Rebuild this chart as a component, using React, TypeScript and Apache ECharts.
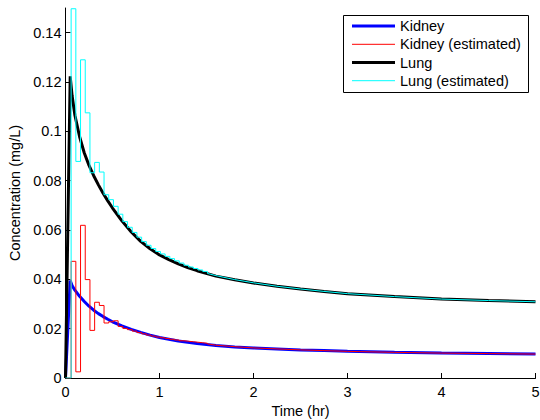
import React, { useEffect, useRef } from "react";
import * as echarts from "echarts";

// Time grid of the "true" model curves (hr)
const trueTimes = [0, 0.05, 0.07, 0.1, 0.15, 0.2, 0.25, 0.3, 0.35, 0.4, 0.45, 0.5, 0.6, 0.7, 0.8, 0.9, 1.0, 1.1, 1.2, 1.3, 1.4, 1.6, 1.8, 2.0, 2.25, 2.5, 2.75, 3.0, 3.5, 4.0, 4.5, 5.0];
const kidney = [0, 0.0395, 0.0375, 0.0356, 0.0331, 0.031, 0.0291, 0.0275, 0.0261, 0.0249, 0.0238, 0.0228, 0.0211, 0.0197, 0.0185, 0.0174, 0.0164, 0.0157, 0.015, 0.0145, 0.014, 0.0132, 0.0126, 0.0122, 0.0118, 0.0114, 0.0111, 0.0108, 0.0104, 0.0101, 0.0099, 0.0097];
const lung = [0, 0.1223, 0.1145, 0.1065, 0.0978, 0.0912, 0.0862, 0.082, 0.0783, 0.0749, 0.0718, 0.0689, 0.0637, 0.0592, 0.0554, 0.0524, 0.0499, 0.048, 0.0463, 0.0448, 0.0435, 0.0413, 0.0398, 0.0385, 0.0372, 0.0361, 0.0351, 0.0342, 0.033, 0.032, 0.0314, 0.0309];

// Estimated (piecewise constant) values, each held from its time to the next
const estTimes = [0, 0.06, 0.11, 0.16, 0.21, 0.26, 0.31, 0.36, 0.41, 0.46, 0.51, 0.56, 0.61, 0.66, 0.71, 0.76, 0.81, 0.86, 0.91, 0.96, 1.01, 1.06, 1.11, 1.16, 1.21, 1.26, 1.31, 1.36, 1.41, 1.46, 1.51];
const kidneyEst = [0, 0.0473, 0.0025, 0.0619, 0.0399, 0.0193, 0.0307, 0.0294, 0.0223, 0.0228, 0.0232, 0.0209, 0.0201, 0.0196, 0.019, 0.0184, 0.0179, 0.0174, 0.017, 0.0166, 0.0163, 0.016, 0.0157, 0.0154, 0.0151, 0.0149, 0.0147, 0.0145, 0.0143, 0.0141, 0.0138];
const lungEst = [0, 0.1497, 0.0878, 0.129, 0.1075, 0.0832, 0.0874, 0.0835, 0.0743, 0.0723, 0.0696, 0.0664, 0.0634, 0.0611, 0.059, 0.0571, 0.0553, 0.0538, 0.0525, 0.0513, 0.0503, 0.0493, 0.0484, 0.0475, 0.0466, 0.0457, 0.045, 0.0444, 0.0438, 0.0432, 0.0424];

// Tail of the estimates, where the steps are too small to see
const tailTimes = [1.51, 1.6, 1.8, 2.0, 2.25, 2.5, 2.75, 3.0, 3.5, 4.0, 4.5, 5.0];
const kidneyEstTail = [0.0138, 0.0133, 0.0127, 0.0122, 0.0118, 0.0114, 0.0111, 0.0108, 0.0104, 0.0101, 0.0099, 0.0097];
const lungEstTail = [0.0424, 0.0415, 0.0399, 0.0386, 0.0372, 0.0361, 0.0351, 0.0342, 0.033, 0.032, 0.0314, 0.0309];

const yTicks = [0, 0.02, 0.04, 0.06, 0.08, 0.1, 0.12, 0.14];

const seriesNames = ["Kidney", "Kidney (estimated)", "Lung", "Lung (estimated)"];
const seriesColors = ["#0000ff", "#ff0000", "#000000", "#00ffff"];
const seriesWidths = [3, 1, 3, 1];

const FONT = "'Liberation Sans', Arial, Helvetica, sans-serif";

const pairs = (xs: number[], ys: number[]) => xs.map((x, i) => [x, ys[i]]);

export default function App() {
  const ref = useRef<HTMLDivElement>(null);
  useEffect(() => {
    if (!ref.current) return;
    const chart = echarts.init(ref.current, undefined, { renderer: "svg" });
    const axisColor = "#000";

    // Legend box drawn as graphic elements (MATLAB-like lines without markers)
    const lgX = 343.5, lgY = 15.5, lgW = 185, lgH = 77;
    const rowY = [26, 44.3, 62.5, 80.7];
    const legendChildren: any[] = [
      {
        type: "rect",
        shape: { x: lgX, y: lgY, width: lgW, height: lgH },
        style: { fill: "#fff", stroke: "#000", lineWidth: 1 },
      },
    ];
    seriesNames.forEach((name, i) => {
      legendChildren.push({
        type: "line",
        shape: { x1: 352, y1: rowY[i], x2: 395, y2: rowY[i] },
        style: { stroke: seriesColors[i], lineWidth: seriesWidths[i] },
      });
      legendChildren.push({
        type: "text",
        x: 400,
        y: rowY[i],
        style: {
          text: name,
          fill: "#000",
          fontSize: 14.5,
          fontFamily: FONT,
          align: "left",
          verticalAlign: "middle",
        },
      });
    });

    const lineSeries = (name: string, idx: number, data: number[][], step?: string) => ({
      name,
      type: "line",
      data,
      step: step || false,
      symbol: "none",
      showSymbol: false,
      lineStyle: { color: seriesColors[idx], width: seriesWidths[idx] },
      itemStyle: { color: seriesColors[idx] },
    });

    chart.setOption({
      animation: false,
      backgroundColor: "#fff",
      textStyle: { fontFamily: FONT },
      grid: { left: 65.5, right: 4.5, top: 8, bottom: 42, containLabel: false, outerBoundsMode: "none" },
      graphic: [{ type: "group", z: 100, children: legendChildren }],
      xAxis: {
        type: "value",
        min: 0,
        max: 5,
        interval: 1,
        name: "Time (hr)",
        nameLocation: "middle",
        nameGap: 21,
        nameTextStyle: { fontSize: 14.5, color: "#000", fontFamily: FONT },
        axisLine: { show: true, onZero: false, lineStyle: { color: axisColor, width: 1 } },
        axisTick: { show: true, inside: true, length: 5, lineStyle: { color: axisColor } },
        axisLabel: { margin: 6, fontSize: 14.5, color: "#000", fontFamily: FONT },
        splitLine: { show: false },
      },
      yAxis: {
        type: "value",
        min: 0,
        max: 0.15,
        interval: 0.02,
        name: "Concentration (mg/L)",
        nameLocation: "middle",
        nameGap: 40,
        nameRotate: 90,
        nameTextStyle: { fontSize: 14.5, color: "#000", fontFamily: FONT },
        axisLine: { show: true, onZero: false, lineStyle: { color: axisColor, width: 1 } },
        axisTick: { show: true, inside: true, length: 5, customValues: yTicks, lineStyle: { color: axisColor } },
        axisLabel: { margin: 4, fontSize: 14.5, color: "#000", fontFamily: FONT, customValues: yTicks },
        splitLine: { show: false },
      },
      series: [
        lineSeries(seriesNames[0], 0, pairs(trueTimes, kidney)),
        lineSeries(seriesNames[1], 1, pairs(estTimes, kidneyEst), "end"),
        lineSeries(seriesNames[1], 1, pairs(tailTimes, kidneyEstTail)),
        lineSeries(seriesNames[2], 2, pairs(trueTimes, lung)),
        lineSeries(seriesNames[3], 3, pairs(estTimes, lungEst), "end"),
        lineSeries(seriesNames[3], 3, pairs(tailTimes, lungEstTail)),
      ],
    });
    return () => chart.dispose();
  }, []);
  return (
    <div
      ref={ref}
      style={{ position: "fixed", left: 0, top: 0, width: 540, height: 420, background: "#fff" }}
    />
  );
}
